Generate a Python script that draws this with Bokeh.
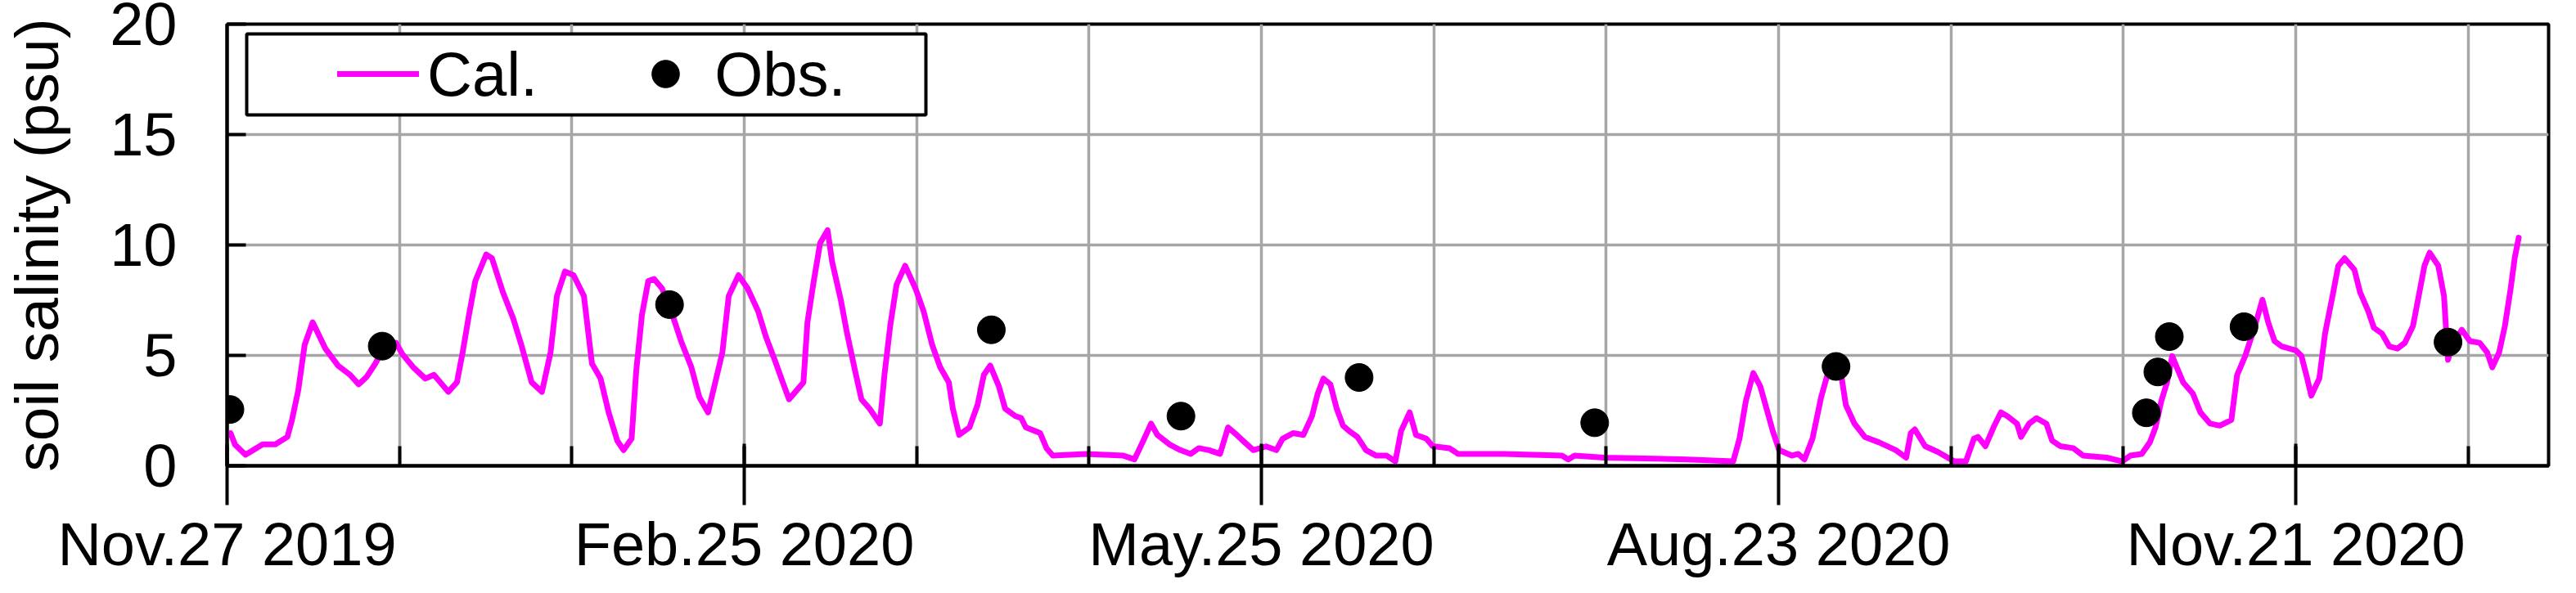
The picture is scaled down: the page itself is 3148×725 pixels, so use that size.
from bokeh.plotting import figure
from bokeh.models import Range1d, FixedTicker, Legend, LegendItem, BoxAnnotation, ColumnDataSource
from bokeh.embed import file_html
from bokeh.resources import INLINE

# ---- data (days since Nov.27 2019, salinity in psu) ----
cal_day = [
    0.6, 1.4, 3.2, 6.2, 8.4, 10.5, 11.3, 12.4, 13.5, 14.9,
    17.1, 19.3, 21.4, 22.9, 24.3, 25.8, 27.4, 29.4, 30.5, 32.4,
    34.5, 36.0, 38.5, 40.0, 41.0, 42.1, 43.2, 45.1, 46.1, 48.0,
    49.8, 51.2, 53.0, 54.8, 56.3, 57.4, 58.8, 60.3, 62.1, 63.5,
    65.0, 66.4, 67.9, 69.0, 70.4, 71.2, 72.2, 73.3, 74.3, 75.7,
    77.5, 79.0, 80.8, 82.2, 83.7, 84.8, 86.2, 87.3, 89.0, 90.6,
    92.4, 93.8, 95.3, 96.7, 97.8, 99.2, 100.3, 101.0, 102.1, 103.2,
    104.5, 105.3, 106.8, 107.9, 109.3, 110.4, 111.8, 113.6, 114.4, 115.4,
    116.5, 118.0, 119.8, 121.2, 122.7, 124.1, 125.6, 126.3, 127.4, 129.2,
    130.6, 131.7, 132.8, 134.3, 135.4, 137.2, 138.2, 139.0, 141.5, 142.6,
    143.7, 149.5, 156.0, 157.9, 159.3, 160.8, 161.9, 164.0, 165.9, 167.7,
    169.1, 170.9, 172.8, 174.2, 175.7, 177.1, 178.6, 180.8, 182.6, 183.7,
    185.5, 187.3, 188.8, 189.8, 190.8, 192.0, 193.1, 194.2, 195.3, 196.7,
    198.2, 200.0, 201.8, 203.3, 204.3, 205.8, 206.9, 208.7, 209.8, 212.7,
    214.2, 222.2, 232.3, 233.4, 234.5, 239.6, 254.1, 262.1, 263.2, 264.3,
    265.6, 266.8, 267.9, 269.0, 270.1, 272.3, 273.4, 274.5, 275.9, 277.4,
    278.5, 279.6, 281.0, 281.7, 283.2, 285.0, 287.5, 290.4, 292.2, 293.0,
    293.7, 295.5, 297.7, 300.6, 302.6, 304.0, 304.7, 306.0, 307.4, 308.7,
    309.8, 311.5, 312.2, 313.6, 314.9, 316.6, 317.6, 319.0, 321.3, 323.0,
    327.1, 329.8, 331.2, 333.2, 334.6, 335.6, 336.6, 337.6, 338.5, 339.3,
    340.4, 342.1, 343.4, 345.1, 346.8, 348.8, 349.8, 351.2, 352.9, 354.2,
    355.2, 356.3, 357.6, 360.0, 361.0, 362.0, 362.7, 364.1, 365.1, 366.4,
    367.4, 368.5, 370.2, 371.2, 372.6, 373.6, 375.0, 376.3, 377.7, 379.0,
    380.4, 381.4, 382.4, 383.3, 384.8, 385.8, 386.2, 386.5, 387.2, 388.9,
    390.3, 392.0, 393.3, 394.2, 395.4, 396.4, 397.4, 398.1, 398.8,
]
cal_val = [
    1.48, 0.95, 0.5, 0.97, 0.97, 1.31, 2.08, 3.44, 5.48, 6.5,
    5.31, 4.54, 4.12, 3.69, 4.03, 4.63, 5.4, 5.57, 5.06, 4.46,
    3.95, 4.12, 3.35, 3.78, 5.14, 6.84, 8.37, 9.57, 9.4, 7.86,
    6.67, 5.48, 3.78, 3.35, 5.14, 7.69, 8.8, 8.63, 7.69, 4.63,
    3.95, 2.42, 1.14, 0.71, 1.23, 4.29, 6.84, 8.37, 8.46, 8.03,
    6.84, 5.65, 4.46, 3.1, 2.42, 3.61, 5.14, 7.69, 8.63, 8.03,
    7.01, 5.82, 4.8, 3.78, 3.01, 3.44, 3.78, 6.5, 8.37, 10.08,
    10.67, 9.23, 7.52, 5.99, 4.29, 3.01, 2.59, 1.91, 4.12, 6.33,
    8.2, 9.06, 8.03, 7.01, 5.48, 4.46, 3.78, 2.59, 1.4, 1.74,
    2.76, 4.12, 4.54, 3.61, 2.59, 2.25, 2.16, 1.74, 1.48, 0.8,
    0.46, 0.54, 0.46, 0.29, 1.06, 1.91, 1.4, 0.97, 0.71, 0.54,
    0.8, 0.71, 0.54, 1.74, 1.4, 1.06, 0.71, 0.88, 0.71, 1.23,
    1.48, 1.4, 2.25, 3.27, 3.95, 3.69, 2.59, 1.82, 1.57, 1.31,
    0.71, 0.46, 0.46, 0.2, 1.57, 2.42, 1.4, 1.23, 0.89, 0.8,
    0.54, 0.54, 0.46, 0.29, 0.46, 0.37, 0.29, 0.2, 1.23, 2.93,
    4.2, 3.61, 2.59, 1.57, 0.71, 0.46, 0.54, 0.29, 1.23, 3.1,
    4.12, 4.29, 3.95, 2.76, 1.91, 1.31, 1.06, 0.71, 0.37, 1.48,
    1.65, 0.89, 0.63, 0.2, 0.2, 1.23, 1.31, 0.89, 1.74, 2.42,
    2.25, 1.91, 1.31, 1.91, 2.16, 1.91, 1.14, 0.89, 0.8, 0.46,
    0.37, 0.2, 0.46, 0.54, 1.06, 1.74, 2.93, 3.78, 4.97, 4.46,
    3.78, 3.27, 2.42, 1.91, 1.82, 2.08, 4.12, 4.97, 6.33, 7.52,
    6.5, 5.65, 5.4, 5.23, 4.97, 3.95, 3.18, 3.95, 5.99, 7.69,
    9.06, 9.4, 8.88, 7.86, 7.01, 6.25, 5.99, 5.4, 5.31, 5.57,
    6.33, 7.69, 9.06, 9.65, 9.06, 7.69, 5.99, 4.8, 5.48, 6.16,
    5.65, 5.57, 5.14, 4.46, 5.14, 6.33, 8.03, 9.4, 10.33,
]
obs_day = [0.5, 27.0, 77.0, 133.0, 166.0, 197.0, 238.0, 280.0, 334.0, 336.0, 338.0, 351.0, 386.5]
obs_val = [2.55, 5.42, 7.3, 6.16, 2.25, 4.0, 1.95, 4.5, 2.4, 4.25, 5.85, 6.3, 5.6]

tick_days = [0, 90, 180, 270, 360]
tick_labels = ["Nov.27 2019", "Feb.25 2020", "May.25 2020", "Aug.23 2020", "Nov.21 2020"]
grid_days = [0, 30, 60, 90, 120, 150, 180, 210, 240, 270, 300, 330, 360, 390]
y_ticks = [0, 5, 10, 15, 20]

FONT = "Liberation Sans"

p = figure(width=3132, height=709, output_backend="svg", toolbar_location=None,
           x_range=Range1d(0, 404), y_range=Range1d(0, 20))
p.min_border_left = 275
p.min_border_right = 18
p.min_border_top = 29
p.min_border_bottom = 138
p.background_fill_color = "white"
p.border_fill_color = "white"
p.outline_line_color = "black"
p.outline_line_width = 4
p.outline_line_alpha = 1.0

# grids
p.xgrid.ticker = FixedTicker(ticks=grid_days)
p.ygrid.ticker = FixedTicker(ticks=y_ticks)
for g in (p.xgrid, p.ygrid):
    g.grid_line_color = "#A6A6A6"
    g.grid_line_width = 3.5
    g.grid_line_alpha = 1.0

# x axis
xa = p.xaxis[0]
xa.ticker = FixedTicker(ticks=tick_days, minor_ticks=grid_days)
xa.major_label_overrides = {d: l for d, l in zip(tick_days, tick_labels)}
xa.axis_line_width = 4
xa.major_tick_line_width = 4
xa.minor_tick_line_width = 4
xa.major_tick_in = 27
xa.major_tick_out = 48
xa.minor_tick_in = 24
xa.minor_tick_out = 0
xa.major_label_standoff = 6
xa.major_label_text_font = FONT
xa.major_label_text_font_size = "74px"
xa.major_label_text_color = "black"

# y axis
ya = p.yaxis[0]
ya.ticker = FixedTicker(ticks=y_ticks)
ya.axis_line_width = 4
ya.major_tick_line_width = 4
ya.major_tick_in = 23
ya.major_tick_out = 0
ya.minor_tick_line_color = None
ya.major_label_standoff = 61
ya.major_label_text_font = FONT
ya.major_label_text_font_size = "74px"
ya.major_label_text_color = "black"
ya.axis_label = "soil salinity (psu)"
ya.axis_label_text_font = FONT
ya.axis_label_text_font_size = "75px"
ya.axis_label_text_font_style = "normal"
ya.axis_label_text_color = "black"
ya.axis_label_standoff = 44

cal_src = ColumnDataSource(dict(x=cal_day, y=cal_val))
obs_src = ColumnDataSource(dict(x=obs_day, y=obs_val))

cal_r = p.line("x", "y", source=cal_src, line_color="#FF00FF", line_width=7,
               line_join="round", line_cap="round")
obs_r = p.scatter("x", "y", source=obs_src, marker="circle", size=34,
                  fill_color="black", line_color="black")

# legend frame
frame_box = BoxAnnotation(left=24, right=854, bottom=429, top=528,
                          left_units="screen", right_units="screen",
                          bottom_units="screen", top_units="screen",
                          fill_color="white", fill_alpha=1.0,
                          line_color="black", line_width=4, line_alpha=1.0)
p.add_layout(frame_box)

legend = Legend(items=[LegendItem(label="Cal.", renderers=[cal_r]),
                       LegendItem(label="Obs.", renderers=[obs_r])],
                location=(135, 434), orientation="horizontal",
                glyph_width=100, glyph_height=84, label_height=90,
                label_standoff=10, spacing=106, padding=0, margin=0,
                border_line_alpha=0, background_fill_alpha=0,
                label_text_font=FONT, label_text_font_size="76px",
                label_text_color="black")
p.add_layout(legend)

open("out.html", "w").write(file_html(p, INLINE))
